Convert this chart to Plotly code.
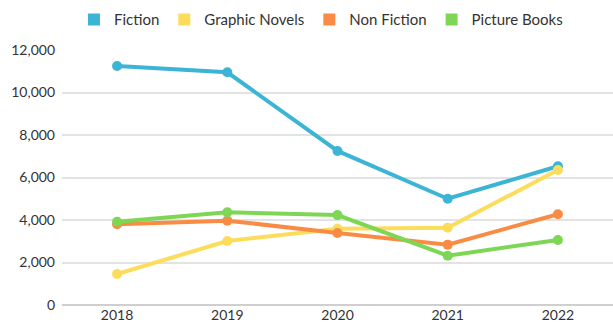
import plotly.graph_objects as go

years = ["2018", "2019", "2020", "2021", "2022"]
fiction = [11250, 10950, 7250, 5000, 6530]
graphic_novels = [1460, 3010, 3590, 3640, 6350]
non_fiction = [3800, 3970, 3390, 2840, 4270]
picture_books = [3920, 4360, 4230, 2320, 3060]

series = [
    ("Fiction", fiction, "#3BB4D5"),
    ("Graphic Novels", graphic_novels, "#FCDD5B"),
    ("Non Fiction", non_fiction, "#F98C45"),
    ("Picture Books", picture_books, "#7DD755"),
]

fig = go.Figure()
for name, vals, color in series:
    fig.add_trace(go.Scatter(
        x=years, y=vals, mode="lines+markers", name=name,
        line=dict(color=color, width=4),
        marker=dict(color=color, size=10),
        showlegend=False, cliponaxis=False,
    ))
for name, vals, color in series:
    fig.add_trace(go.Scatter(
        x=[None], y=[None], mode="markers", name=name,
        marker=dict(color=color, size=11, symbol="square"),
        showlegend=True,
    ))

fig.update_layout(
    width=613, height=325,
    margin=dict(l=62, r=0, t=50, b=20),
    paper_bgcolor="white", plot_bgcolor="white",
    font=dict(family="Lato, sans-serif", size=14, color="#333333"),
    legend=dict(orientation="h", x=0.47, xanchor="center", y=0.99, yanchor="top",
                yref="container", font=dict(size=15, color="#333333"),
                itemwidth=30, tracegroupgap=0, itemsizing="constant"),
    xaxis=dict(type="category", range=[-0.5, 4.5], showgrid=False,
               showline=False, ticks="", tickfont=dict(size=14)),
    yaxis=dict(range=[0, 12000], tickvals=[0, 2000, 4000, 6000, 8000, 10000, 12000],
               tickformat=",d", gridcolor="#E3E3E3", gridwidth=1.5,
               zeroline=True, zerolinecolor="#CFCFCF", zerolinewidth=1.5,
               showline=False, ticks="", tickfont=dict(size=14), ticklabelstandoff=6),
)
fig.write_html("out.html")
